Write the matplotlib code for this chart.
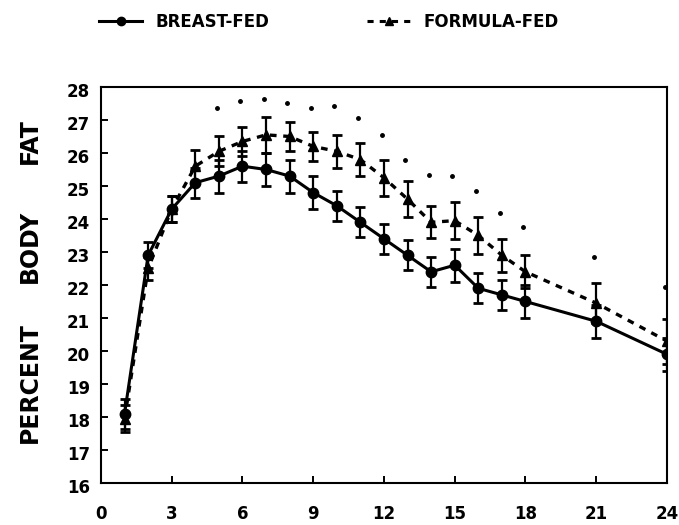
import matplotlib.pyplot as plt
import matplotlib.transforms as mtransforms
from matplotlib.lines import Line2D

# months of age
months = [1, 2, 3, 4, 5, 6, 7, 8, 9, 10, 11, 12, 13, 14, 15, 16, 17, 18, 21, 24]

# percent body fat, mean and SEM
breast_fat = [18.1, 22.9, 24.3, 25.1, 25.3, 25.6, 25.5, 25.3, 24.8, 24.4,
              23.9, 23.4, 22.9, 22.4, 22.6, 21.9, 21.7, 21.5, 20.9, 19.9]
breast_sem = [0.45, 0.4, 0.4, 0.45, 0.5, 0.47, 0.5, 0.5, 0.5, 0.45,
              0.45, 0.45, 0.45, 0.45, 0.5, 0.45, 0.45, 0.5, 0.5, 0.5]
formula_fat = [17.95, 22.5, 24.3, 25.6, 26.05, 26.35, 26.55, 26.5, 26.2, 26.05,
               25.8, 25.25, 24.6, 23.9, 23.95, 23.5, 22.9, 22.4, 21.45, 20.3]
formula_sem = [0.4, 0.35, 0.4, 0.5, 0.45, 0.45, 0.55, 0.45, 0.45, 0.5,
               0.5, 0.55, 0.55, 0.48, 0.55, 0.55, 0.5, 0.5, 0.6, 0.68]

# significance dots above the curves
sig_months = [5, 6, 7, 8, 9, 10, 11, 12, 13, 14, 15, 16, 17, 18, 21, 24]
sig_level = [27.35, 27.58, 27.64, 27.52, 27.35, 27.42, 27.05, 26.55, 25.8,
             25.33, 25.31, 24.85, 24.19, 23.77, 22.84, 21.95]

plt.rcParams.update({
    'font.family': 'DejaVu Sans',
    'font.weight': 'bold',
})

fig = plt.figure(figsize=(6.79, 5.25), dpi=100)
ax = fig.add_axes([0.1487, 0.08, 0.8336, 0.7543])

# breast-fed: solid line, circles
ax.errorbar(months, breast_fat, yerr=breast_sem, color='black', lw=2.2,
            marker='o', ms=7.5, capsize=3.5, capthick=2, elinewidth=1.6,
            zorder=3)
# formula-fed: dashed line, triangles
ax.errorbar(months, formula_fat, yerr=formula_sem, color='black', lw=2.4,
            ls=(0, (2, 2)), marker='^', ms=7.5, capsize=3.5, capthick=2,
            elinewidth=1.6, zorder=3)
ax.plot([m - 0.1 for m in sig_months], sig_level, 'o', color='black', ms=2.5)

ax.set_xlim(0, 24)
ax.set_ylim(16, 28)
ax.set_xticks(range(0, 25, 3))
ax.set_yticks(range(16, 29))
ax.tick_params(direction='in', length=5, width=1.4, labelsize=12)
ax.tick_params(axis='x', pad=16)
ax.tick_params(axis='y', pad=8)
shift = mtransforms.ScaledTranslation(0, -2 / 72, fig.dpi_scale_trans)
for lbl in ax.get_yticklabels():
    lbl.set_transform(lbl.get_transform() + shift)
for lbl in ax.get_xticklabels() + ax.get_yticklabels():
    lbl.set_fontweight('bold')
for s in ax.spines.values():
    s.set_linewidth(1.5)

# y label, word by word to match the wide spacing
for word, ypix in [('FAT', 141), ('BODY', 246), ('PERCENT', 383)]:
    fig.text(0.0435, 1 - ypix / 525, word, rotation=90, ha='center',
             va='center', fontsize=17, fontweight='bold')

h_breast = Line2D([], [], color='black', lw=2.2, marker='o', ms=6)
h_formula = Line2D([], [], color='black', lw=2.2, ls=(0, (2, 2)),
                   marker='^', ms=6)
for h, name, x0 in [(h_breast, 'BREAST-FED', 0.1458),
                    (h_formula, 'FORMULA-FED', 0.5405)]:
    fig.legend([h], [name], frameon=False, loc='center left',
               bbox_to_anchor=(x0, 0.958), borderaxespad=0, borderpad=0,
               prop={'weight': 'bold', 'size': 12},
               handlelength=2.6, handletextpad=0.8)

fig.savefig('out.png', dpi=100)
